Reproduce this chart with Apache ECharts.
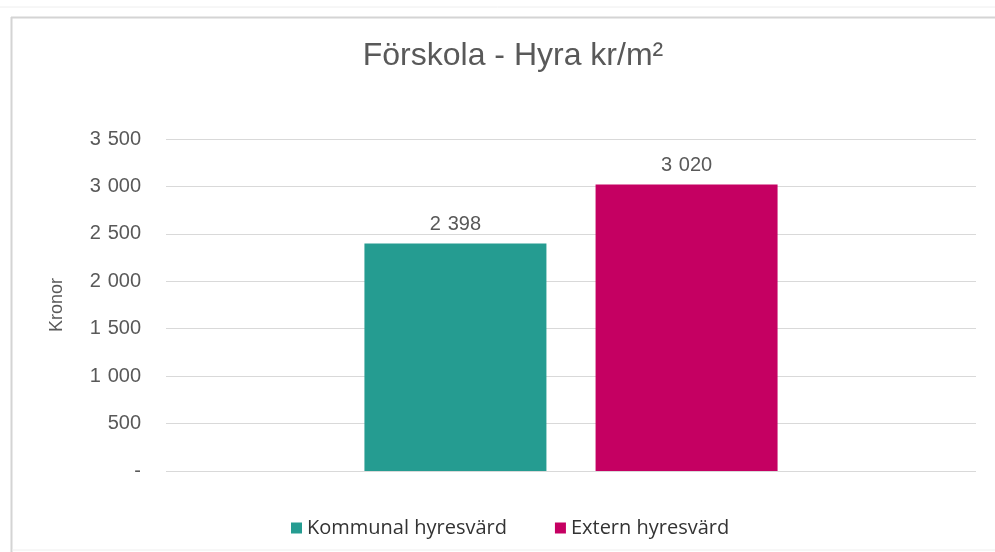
<!DOCTYPE html>
<html>
<head>
<meta charset="utf-8">
<script src="https://cdn.jsdelivr.net/npm/echarts@6/dist/echarts.min.js"></script>
<style>
html, body { margin: 0; padding: 0; background: #fff; }
#chart { width: 995px; height: 552px; }
</style>
</head>
<body>
<div id="chart"></div>
<script>
// data
var categories = ['Förskola'];
var seriesNames = ['Kommunal hyresvärd', 'Extern hyresvärd'];
var kommunal = [2398];
var extern = [3020];
var yTicks = [0, 500, 1000, 1500, 2000, 2500, 3000, 3500];

// swedish style: space as thousands separator, "-" for zero
function fmt(v) {
    if (v === 0) return '-';
    return String(v).replace(/\B(?=(\d{3})+(?!\d))/g, '\u2004');
}

var chart = echarts.init(document.getElementById('chart'));
var labelStyle = {
    show: true, position: 'top', distance: 9,
    formatter: function (p) { return fmt(p.value); },
    fontFamily: 'Liberation Sans', fontSize: 20, color: '#595959'
};
var option = {
    animation: false,
    title: {
        text: 'Förskola - Hyra kr/m²',
        left: 508,
        textAlign: 'center',
        top: 35,
        textStyle: { fontFamily: 'Liberation Sans', fontSize: 32, fontWeight: 'normal', color: '#595959' }
    },
    graphic: [
        { type: 'line', shape: { x1: 0, y1: 7, x2: 995, y2: 7 }, style: { stroke: '#eeeeee', lineWidth: 1 } },
        { type: 'line', shape: { x1: 11, y1: 17.5, x2: 995, y2: 17.5 }, style: { stroke: '#d4d4d4', lineWidth: 2 } },
        { type: 'line', shape: { x1: 11.5, y1: 17, x2: 11.5, y2: 552 }, style: { stroke: '#d4d4d4', lineWidth: 2 } },
        { type: 'line', shape: { x1: 12, y1: 550, x2: 995, y2: 550 }, style: { stroke: '#eeeeee', lineWidth: 1 } }
    ],
    legend: {
        data: seriesNames,
        bottom: 9,
        left: 286,
        itemWidth: 11,
        itemHeight: 11,
        itemGap: 48,
        icon: 'rect',
        textStyle: { fontFamily: 'Open Sans', fontSize: 20, color: '#333' }
    },
    grid: { left: 166, right: 19, top: 139, bottom: 81 },
    xAxis: {
        type: 'category',
        data: categories,
        axisLine: { show: false },
        axisTick: { show: false },
        axisLabel: { show: false }
    },
    yAxis: {
        type: 'value',
        min: yTicks[0],
        max: yTicks[yTicks.length - 1],
        interval: 500,
        name: 'Kronor',
        nameLocation: 'middle',
        nameRotate: 90,
        nameGap: 100,
        nameTextStyle: { fontFamily: 'Liberation Sans', fontSize: 18, color: '#595959' },
        axisLine: { show: false },
        axisTick: { show: false },
        axisLabel: {
            formatter: fmt,
            margin: 25,
            fontFamily: 'Liberation Sans',
            fontSize: 20,
            color: '#595959'
        },
        splitLine: { lineStyle: { color: '#d9d9d9', width: 1 } }
    },
    series: [
        {
            name: seriesNames[0],
            type: 'bar',
            data: kommunal,
            barWidth: 182,
            barGap: '27%',
            itemStyle: { color: '#259c91' },
            label: labelStyle
        },
        {
            name: seriesNames[1],
            type: 'bar',
            data: extern,
            barWidth: 182,
            barGap: '27%',
            itemStyle: { color: '#c50062' },
            label: labelStyle
        }
    ]
};
chart.setOption(option);
</script>
</body>
</html>
